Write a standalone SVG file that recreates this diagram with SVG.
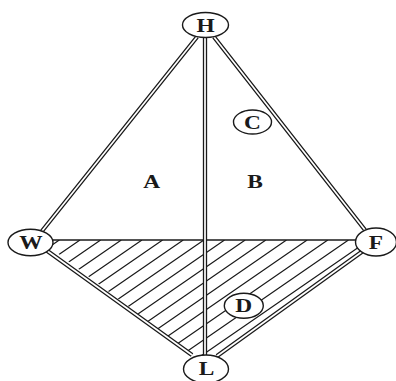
<svg xmlns="http://www.w3.org/2000/svg" width="396" height="381" viewBox="0 0 396 381">
<style>
.dbl-o{stroke:#1a1a1a;stroke-width:4.3;fill:none}
.dbl-i{stroke:#fff;stroke-width:1.7;fill:none}
.hatch{stroke:#1a1a1a;stroke-width:1.2;fill:none}
.node ellipse{fill:#fff;stroke:#1a1a1a;stroke-width:1.4}
.lbl{font-family:"Liberation Serif","Times New Roman",serif;font-weight:bold;font-size:18px;fill:#1a1a1a;text-anchor:middle;dominant-baseline:central}
</style>
<defs>
<clipPath id="tri"><polygon points="40,240 372,240 205,364"/></clipPath>
</defs>
<rect width="396" height="381" fill="#fff"/>
<g id="hatching" clip-path="url(#tri)">
<path class="hatch" d="M38.7,240 l-200,138 M59.35,240 l-200,138 M80,240 l-200,138 M100.65,240 l-200,138 M121.3,240 l-200,138 M141.95,240 l-200,138 M162.6,240 l-200,138 M183.25,240 l-200,138 M203.9,240 l-200,138 M224.55,240 l-200,138 M245.2,240 l-200,138 M265.85,240 l-200,138 M286.5,240 l-200,138 M307.15,240 l-200,138 M327.8,240 l-200,138 M348.45,240 l-200,138 M369.1,240 l-200,138 M389.75,240 l-200,138"/>
</g>
<g id="connectors">
<line x1="45" y1="240" x2="362" y2="240" stroke="#1a1a1a" stroke-width="1.4"/>
<path class="dbl-o" d="M197,37 L42,231 M214,37 L365,230 M205,36 L205,356 M46,250 L192,355 M363,251 L217,356"/>
<path class="dbl-i" d="M197,37 L42,231 M214,37 L365,230 M205,36 L205,356 M46,250 L192,355 M363,251 L217,356"/>
</g>
<g id="node-H" class="node"><ellipse cx="205.5" cy="25" rx="23" ry="12.5"/><text class="lbl" transform="translate(205.5,25.5) scale(1.3,1)">H</text></g>
<g id="node-W" class="node"><ellipse cx="30.5" cy="242.5" rx="22.5" ry="13.3"/><text class="lbl" transform="translate(31,243) scale(1.3,1)">W</text></g>
<g id="node-F" class="node"><ellipse cx="376" cy="242" rx="20.5" ry="14"/><text class="lbl" transform="translate(376,242.5) scale(1.3,1)">F</text></g>
<g id="node-L" class="node"><ellipse cx="206" cy="369" rx="22.5" ry="14"/><text class="lbl" transform="translate(206.5,369) scale(1.3,1)">L</text></g>
<g id="node-C" class="node"><ellipse cx="252.5" cy="122" rx="19" ry="12"/><text class="lbl" transform="translate(252.5,122.5) scale(1.3,1)">C</text></g>
<g id="node-D" class="node"><ellipse cx="243.8" cy="305.8" rx="19.5" ry="12.5"/><text class="lbl" transform="translate(243.8,306) scale(1.3,1)">D</text></g>
<g id="label-A"><text class="lbl" transform="translate(151.7,182) scale(1.3,1)">A</text></g>
<g id="label-B"><text class="lbl" transform="translate(255,182) scale(1.3,1)">B</text></g>
</svg>
